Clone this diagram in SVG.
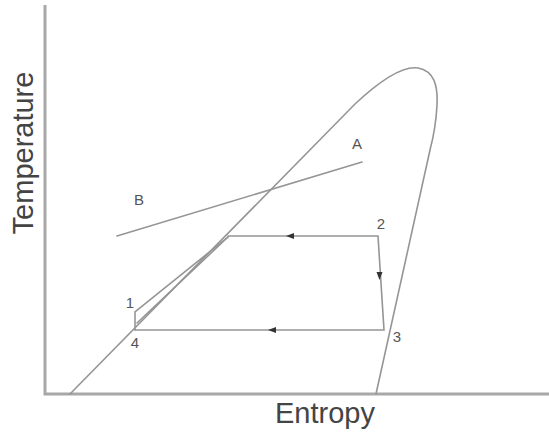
<svg xmlns="http://www.w3.org/2000/svg" width="549" height="435" viewBox="0 0 549 435">
<style>
.ax{stroke:#a8a8a8;stroke-width:3;fill:none}
.ln{stroke:#959595;stroke-width:1.6;fill:none;stroke-linecap:round}
.lbl{font-family:"Liberation Sans",Arial,sans-serif;font-size:15px;fill:#555}
.big{font-family:"Liberation Sans",Arial,sans-serif;font-size:29px;fill:#444}
.ah{fill:#333}
</style>
<rect width="549" height="435" fill="#fff"/>
<g id="axes">
<path class="ax" d="M45,5 L45,394 L549,394"/>
</g>
<g id="dome">
<path class="ln" d="M70,394 L355,104 C385,76 405,66 418,68 C434,71 438,85 437,105 C436,125 434,135 430,150 L376,394"/>
</g>
<g id="connectors">
<path class="ln" d="M117,236 L362,162"/>
<path class="ln" d="M228,236 L378,236 L384,330 L135,330"/>
<path class="ln" d="M135,330 L135,312 L228,237"/>
<path class="ln" d="M137,323 L228,237"/>
<polygon class="ah" points="286,236 294,233 294,239"/>
<polygon class="ah" points="268,330 276,327 276,333"/>
<polygon class="ah" points="379.5,280 376.5,272 382.5,272"/>
</g>
<g id="labels">
<text class="lbl" x="357" y="149" text-anchor="middle">A</text>
<text class="lbl" x="139" y="205" text-anchor="middle">B</text>
<text class="lbl" x="130" y="308" text-anchor="middle">1</text>
<text class="lbl" x="381" y="229" text-anchor="middle">2</text>
<text class="lbl" x="397" y="342" text-anchor="middle">3</text>
<text class="lbl" x="135" y="348" text-anchor="middle">4</text>
</g>
<g id="axis-titles">
<text class="big" x="325" y="423" text-anchor="middle">Entropy</text>
<text class="big" transform="translate(33,153) rotate(-90)" text-anchor="middle">Temperature</text>
</g>
</svg>
